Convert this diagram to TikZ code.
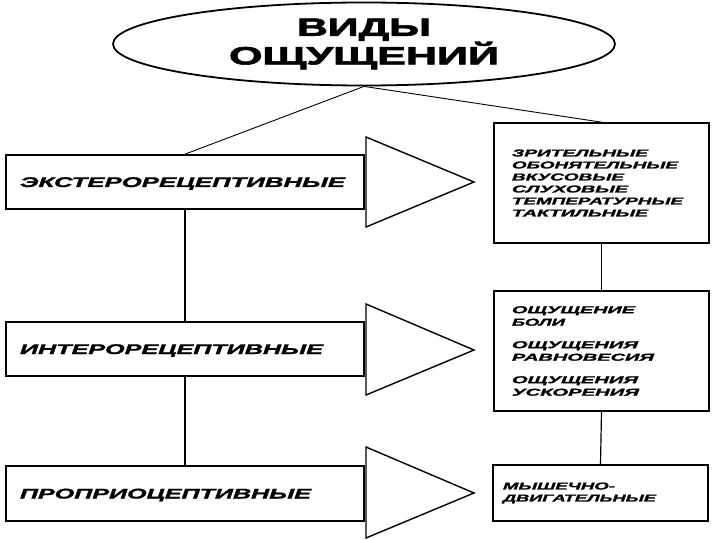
\documentclass[tikz,border=0pt]{standalone}
\usepackage{fontspec}
\setmainfont{Liberation Sans}
\newfontfamily\ttlfont[FakeBold=2.2]{Liberation Sans Bold}
\newfontfamily\labfont[FakeBold=1.4]{Liberation Sans Bold Italic}
\usetikzlibrary{shapes.geometric}
\newcommand{\xw}[2]{\resizebox{#1pt}{\height}{#2}}
\begin{document}
\begin{tikzpicture}[x=1pt,y=-1pt,
  titleshape/.style={ellipse, draw, line width=1.8pt, minimum width=502pt, minimum height=83pt, inner sep=0pt, align=center, font=\fontsize{25}{25}\selectfont\ttlfont},
  lbox/.style={draw, line width=1.7pt, minimum height=54pt, text width=330pt, inner xsep=14pt, inner ysep=0pt, align=left, font=\fontsize{14}{16}\selectfont\labfont, text height=10pt, text depth=0pt},
  rbox/.style={draw, line width=1.7pt, text width=179pt, inner xsep=18pt, inner ysep=0pt, align=left, font=\fontsize{10}{12}\selectfont\labfont},
  tri/.style={draw, line width=1.4pt, line join=miter},
  link/.style={line width=0.9pt},
  vlink/.style={line width=1.2pt}]
\useasboundingbox (0,0) rectangle (720,540);

\node[titleshape] (T) at (364,44) {\xw{134}{ВИДЫ}\\\xw{270}{ОЩУЩЕНИЙ}};

\node[lbox] (L1) at (185,182) {\xw{325}{ЭКСТЕРОРЕЦЕПТИВНЫЕ}};
\node[lbox] (L2) at (185,349) {\xw{303}{ИНТЕРОРЕЦЕПТИВНЫЕ}};
\node[lbox, minimum height=55pt] (L3) at (185,493.5) {\xw{291}{ПРОПРИОЦЕПТИВНЫЕ}};

\node[rbox, minimum height=120pt] (R1) at (601.5,183) {%
\xw{136}{ЗРИТЕЛЬНЫЕ}\\
\xw{166}{ОБОНЯТЕЛЬНЫЕ}\\
\xw{112}{ВКУСОВЫЕ}\\
\xw{116}{СЛУХОВЫЕ}\\
\xw{171}{ТЕМПЕРАТУРНЫЕ}\\
\xw{136}{ТАКТИЛЬНЫЕ}};

\node[rbox, minimum height=120pt, font=\fontsize{10}{12.5}\selectfont\labfont] (R2) at (601.5,351) {%
\xw{123}{ОЩУЩЕНИЕ}\\
\xw{53}{БОЛИ}\\[10pt]
\xw{126}{ОЩУЩЕНИЯ}\\
\xw{142}{РАВНОВЕСИЯ}\\[10pt]
\xw{126}{ОЩУЩЕНИЯ}\\
\xw{127}{УСКОРЕНИЯ}};

\node[rbox, minimum height=56pt, inner xsep=10pt, text width=195pt] (R3) at (600.5,493) {%
\xw{112}{МЫШЕЧНО-}\\
\xw{153}{ДВИГАТЕЛЬНЫЕ}};

\draw[tri] (366,137) -- (366,227) -- (474,182) -- cycle;
\draw[tri] (366,304) -- (366,395) -- (474,350) -- cycle;
\draw[tri] (366,447) -- (366,538) -- (474,493) -- cycle;

\draw[link] (T.south) -- (L1.north);
\draw[link] (T.south) -- (R1.north);
\draw[vlink] (L1.south) -- (L2.north);
\draw[vlink] (L2.south) -- (L3.north);
\draw[vlink] (R1.south) -- (R2.north);
\draw[vlink] (R2.south) -- (R3.north);
\end{tikzpicture}
\end{document}
